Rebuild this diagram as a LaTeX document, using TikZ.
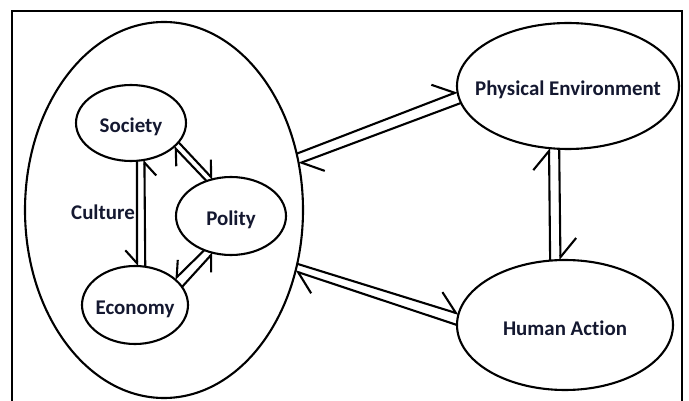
\documentclass[tikz,border=0pt]{standalone}
\usepackage{fontspec}
\setmainfont[Ligatures=NoCommon]{Carlito}
\usetikzlibrary{shapes.geometric,arrows.meta}
\definecolor{txt}{RGB}{20,24,48}
\newcommand{\lowtxt}[1]{\makebox[0pt]{\raisebox{-10pt}[0pt][0pt]{#1}}}
\begin{document}
\begin{tikzpicture}[x=1pt,y=-1pt,
  every node/.style={font=\fontsize{20.9}{24}\selectfont\bfseries, text=txt},
  oval/.style={ellipse, draw, line width=2.1pt, inner sep=0pt, outer sep=0pt},
  link/.style={line width=2.1pt},
  hl/.style={link,-{Straight Barb[left,length=19pt,angle'=80]}},
  hli/.style={link,-{Straight Barb[left,length=13pt,angle'=84]}},
  hri/.style={link,-{Straight Barb[right,length=13pt,angle'=84]}}]
\useasboundingbox (0,0) rectangle (689,401);
\fill[white] (0,0) rectangle (689,401);
\draw[line width=2.1pt] (12,401) -- (12,11) -- (682,11) -- (682,401);
\node[oval, minimum width=278pt, minimum height=376pt] (big) at (164,210) {};
\node[oval, minimum width=110pt, minimum height=76pt] (soc) at (131,123) {\lowtxt{Society}};
\node[oval, minimum width=110pt, minimum height=78pt] (pol) at (231,216) {\lowtxt{Polity}};
\node[oval, minimum width=106pt, minimum height=78pt] (eco) at (135,305) {\lowtxt{Economy}};
\node (cul) at (103,212) {Culture};
\node[oval, minimum width=222pt, minimum height=126pt] (pe) at (568,86) {\lowtxt{Physical Environment}};
\node[oval, minimum width=216pt, minimum height=130pt] (ha) at (565,325) {\lowtxt{Human Action}};
% outer links
\draw[hl] (big.23) -- (pe.183.6);
\draw[hl] (pe.189) -- (big.19.4);
\draw[hl] (big.-22.3) -- (ha.174.6);
\draw[hl] (ha.180) -- (big.-25.3);
\draw[hl] (ha.103.1) -- (pe.253.9);
\draw[hl] (pe.262.7) -- (ha.94.4);
% inner links
\draw[hri] (soc.279) -- (eco.87);
\draw[hri] (eco.75.4) -- (soc.290.9);
\draw[hli] (pol.125) -- (soc.331);
\draw[hli] (soc.338) -- (pol.116.6);
\draw[hri] (pol.232) -- (eco.33);
\draw[hri] (eco.21.4) -- (pol.244);
\end{tikzpicture}
\end{document}
